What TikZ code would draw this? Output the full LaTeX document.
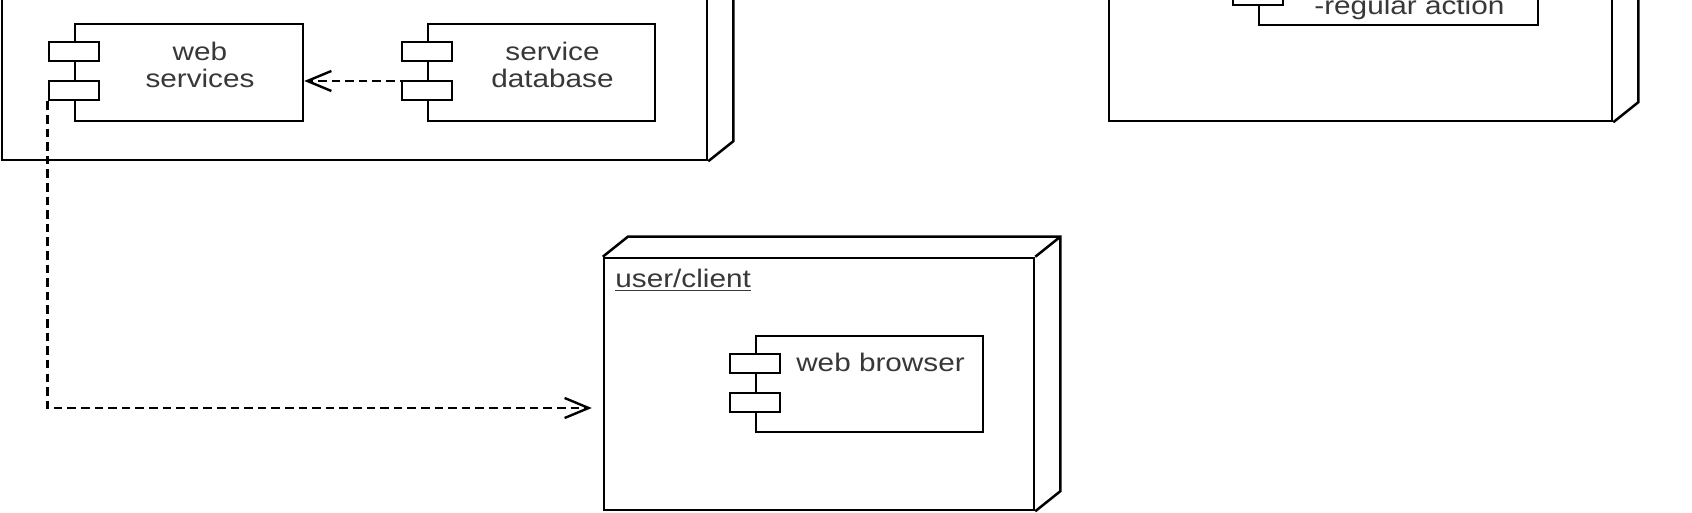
\documentclass[tikz,border=0pt]{standalone}
\usepackage{fontspec}
\setmainfont{Liberation Sans}[FakeStretch=1.17]
\usetikzlibrary{arrows.meta, positioning, calc}

\begin{document}
\begin{tikzpicture}[
  x=0.5pt, y=-0.5pt,
  every node/.style={font=\fontsize{12.7pt}{13.25pt}\selectfont, text=black!78},
  devnode/.style={draw, line width=1.25pt, fill=white, inner sep=0pt},
  boxedge/.style={draw, line width=1.25pt},
  comp/.style={draw, line width=1.25pt, fill=white, minimum width=113.5pt,
               minimum height=48pt, inner sep=0pt},
  port/.style={draw, line width=1.25pt, fill=white, minimum width=25pt,
               minimum height=9.5pt, inner sep=0pt},
  ctext/.style={align=center, inner sep=0pt},
  dep/.style={line width=1.2pt, dash pattern=on 4.3pt off 2.5pt,
              -{Straight Barb[length=12pt, width=10pt]}}
]
  \useasboundingbox (0,0) rectangle (1692,513);
  \clip (0,0) rectangle (1692,513);
  \fill[white] (0,0) rectangle (1692,513);

  % deployment nodes
  \node[devnode, minimum width=352.5pt, minimum height=130pt] (srv) at (354.5,30) {};
  \draw[boxedge] (srv.south east) -- ++(25,-20) -- ([shift={(25,-20)}]srv.north east) -- (srv.north east);

  \node[devnode, minimum width=251.5pt, minimum height=110.5pt] (actnode) at (1360.5,10.5) {};
  \draw[boxedge] (actnode.south east) -- ++(25,-20) -- ([shift={(25,-20)}]actnode.north east) -- (actnode.north east);

  \node[devnode, minimum width=215pt, minimum height=126pt] (uc) at (819,384) {};
  \draw[boxedge] (uc.north west) -- ++(25,-20) -- ([shift={(25,-20)}]uc.north east)
    -- ([shift={(25,-20)}]uc.south east) -- (uc.south east);
  \draw[boxedge] (uc.north east) -- ++(25,-20);
  \node[anchor=base west, inner sep=0pt] (uclabel) at (615,287) {\underline{user/client}};

  % components
  \node[comp, minimum width=114pt, minimum height=48.5pt] (ws) at (189,72.5) {};
  \node[port] (wsp1) at ([yshift=-14.5pt]ws.north west) {};
  \node[port] (wsp2) at ([yshift=-34pt]ws.north west) {};
  \node[ctext] (wstext) at ([shift={(11,-7.5)}]ws.center) {web\\services};

  \node[comp, minimum height=48.5pt] (db) at (541.5,72.5) {};
  \node[port] (dbp1) at ([yshift=-14.5pt]db.north west) {};
  \node[port] (dbp2) at ([yshift=-34pt]db.north west) {};
  \node[ctext] (dbtext) at ([shift={(11,-7.5)}]db.center) {service\\database};

  \node[comp, minimum width=139.5pt] (act) at (1398.5,-23) {};
  \node[port] (actp1) at ([yshift=-14.5pt]act.north west) {};
  \node[port] (actp2) at ([yshift=-34pt]act.north west) {};
  \node[anchor=base west, inner sep=0pt] (acttext) at (1314,15) {-regular action};

  \node[comp] (wb) at (869.5,384) {};
  \node[port] (wbp1) at ([yshift=-14.25pt]wb.north west) {};
  \node[port] (wbp2) at ([yshift=-33.75pt]wb.north west) {};
  \node[ctext] (wbtext) at ([shift={(11,-22)}]wb.center) {web browser};

  % connectors
  \draw[dep] ([shift={(-5,8.5)}]db.west) -- ([yshift=-4.25pt]ws.east);
  \draw[dep] (wsp2.south west) |- ([shift={(-11,24)}]uc.west);
\end{tikzpicture}
\end{document}
